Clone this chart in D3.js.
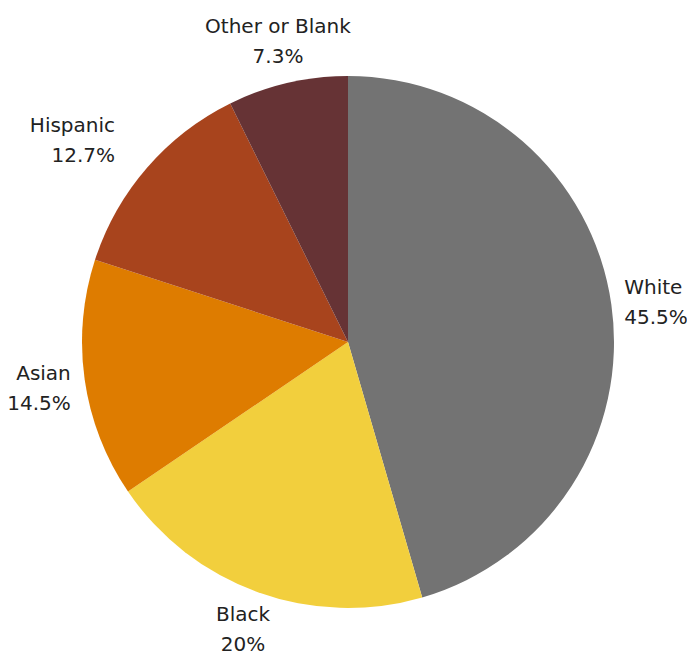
<!DOCTYPE html>
<html>
<head>
<meta charset="utf-8">
<script src="https://cdn.jsdelivr.net/npm/d3@7"></script>
<style>
  body { margin: 0; background: #fff; }
  svg { display: block; }
</style>
</head>
<body>
<div id="chart"></div>
<script>
// --- Data ---
const categories = ["White", "Black", "Asian", "Hispanic", "Other or Blank"];
const values = [45.5, 20, 14.5, 12.7, 7.3];
const valueLabels = ["45.5%", "20%", "14.5%", "12.7%", "7.3%"];
const colors = ["#737373", "#F2CF3D", "#DE7C00", "#A8441D", "#663335"];

// --- Layout ---
const width = 687, height = 656;
const cx = 348, cy = 342, radius = 266;
const labelRadius = [279, 310, 280, 308, 308]; // distance of each label from centre
const labelNudge = [0, -4, 8, 0, 0];          // small vertical tweak per label

const data = categories.map((c, i) => ({ name: c, value: values[i], label: valueLabels[i], color: colors[i] }));

const svg = d3.select("#chart").append("svg")
  .attr("width", width)
  .attr("height", height);

const g = svg.append("g").attr("transform", `translate(${cx},${cy})`);

const pie = d3.pie().sort(null).value(d => d.value);
const arc = d3.arc().innerRadius(0).outerRadius(radius);
const arcs = pie(data);

g.selectAll("path.slice")
  .data(arcs)
  .enter()
  .append("path")
  .attr("class", "slice")
  .attr("d", arc)
  .attr("fill", d => d.data.color);

// --- Labels (outside, two lines) ---
const labels = g.selectAll("text.label")
  .data(arcs)
  .enter()
  .append("text")
  .attr("class", "label")
  .attr("font-family", "'DejaVu Sans', sans-serif")
  .attr("font-size", 20)
  .attr("fill", "#222")
  .attr("text-anchor", d => {
    const a = (d.startAngle + d.endAngle) / 2;
    const s = Math.sin(a);
    if (Math.abs(s) < 0.5) return "middle";
    return s > 0 ? "start" : "end";
  })
  .attr("transform", (d, i) => {
    const a = (d.startAngle + d.endAngle) / 2;
    const r = labelRadius[i];
    return `translate(${r * Math.sin(a)},${-r * Math.cos(a) + labelNudge[i]})`;
  });

labels.append("tspan")
  .attr("x", 0)
  .attr("dy", "-0.45em")
  .text(d => d.data.name);

labels.append("tspan")
  .attr("x", 0)
  .attr("dy", "1.5em")
  .text(d => d.data.label);
</script>
</body>
</html>
